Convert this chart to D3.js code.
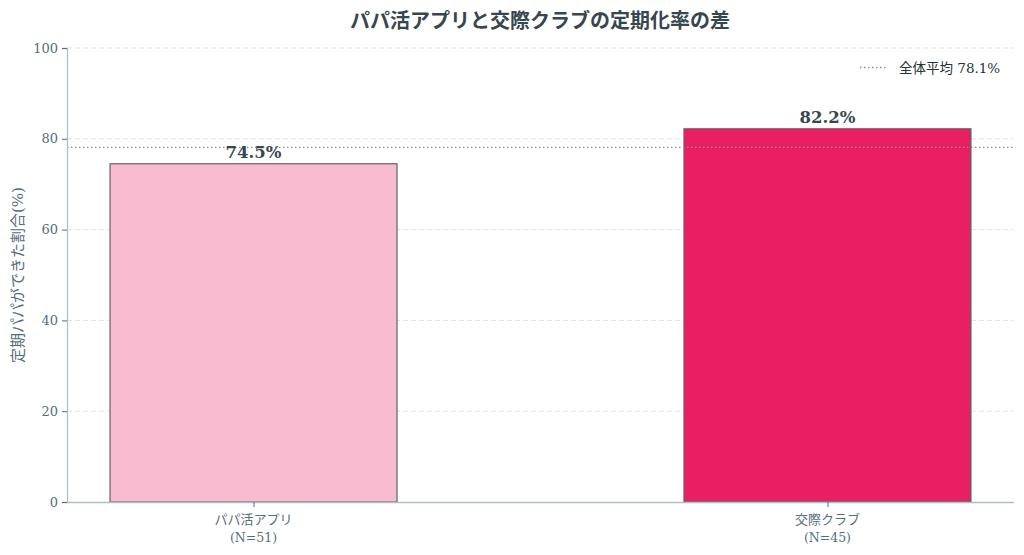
<!DOCTYPE html>
<html><head><meta charset="utf-8">
<script src="https://cdn.jsdelivr.net/npm/d3@7"></script>
<style>
html,body{margin:0;padding:0;background:#fff;}
text{font-family:"DejaVu Serif","Noto Sans CJK JP",serif;}
</style></head>
<body><svg id="c" width="1024" height="555"></svg>
<script>
const categories = ["パパ活アプリ", "交際クラブ"];
const sampleSizes = ["(N=51)", "(N=45)"];
const rates = [74.5, 82.2];
const barColors = ["#F8BBD0", "#E91E63"];
const averageRate = 78.1;
const yTicks = [0, 20, 40, 60, 80, 100];
const titleText = "パパ活アプリと交際クラブの定期化率の差";
const yLabelText = "定期パパができた割合(%)";
const legendText = "全体平均 78.1%";

const svg = d3.select("#c");
const m = {left: 67, right: 1014, top: 48, bottom: 502};
const x = d3.scaleLinear().domain([-0.325, 1.325]).range([m.left, m.right]);
const y = d3.scaleLinear().domain([0, 100]).range([m.bottom, m.top]);
const barW = x(0.5) - x(0);
const textCol = "#37474F";

// grid
svg.append("g").selectAll("line").data(yTicks.filter(d => d > 0)).join("line")
  .attr("x1", m.left).attr("x2", m.right)
  .attr("y1", d => y(d)).attr("y2", d => y(d))
  .attr("stroke", "#dfe3e6").attr("stroke-width", 1).attr("stroke-dasharray", "5,3");

// bars
svg.append("g").selectAll("rect").data(rates).join("rect")
  .attr("x", (d, i) => x(i) - barW / 2).attr("width", barW)
  .attr("y", d => y(d)).attr("height", d => y(0) - y(d))
  .attr("fill", (d, i) => barColors[i])
  .attr("stroke", "#5f6368").attr("stroke-width", 1.2);

// average line
svg.append("line").attr("x1", m.left).attr("x2", m.right)
  .attr("y1", y(averageRate)).attr("y2", y(averageRate))
  .attr("stroke", "#8a8f94").attr("stroke-width", 1.3).attr("stroke-dasharray", "1.5,2.5");

// value labels
svg.append("g").selectAll("text").data(rates).join("text")
  .attr("x", (d, i) => x(i)).attr("y", d => y(d) - 6)
  .attr("text-anchor", "middle").attr("font-size", 16.5).attr("font-weight", "bold")
  .attr("fill", textCol).text(d => d.toFixed(1) + "%");

// y axis
const ya = svg.append("g").attr("transform", `translate(${m.left},0)`)
  .call(d3.axisLeft(y).tickValues(yTicks).tickSize(5).tickPadding(4));
ya.select(".domain").attr("stroke", "#B0BEC5").attr("stroke-width", 1.3);
ya.selectAll(".tick line").attr("stroke", "#546E7A");
ya.selectAll(".tick text").attr("font-size", 13).attr("fill", "#546E7A")
  .style("font-family", "'DejaVu Serif',serif");

// x axis
const xa = svg.append("g").attr("transform", `translate(0,${m.bottom})`)
  .call(d3.axisBottom(x).tickValues([0, 1]).tickSize(5).tickFormat(""));
xa.select(".domain").attr("stroke", "#B0BEC5").attr("stroke-width", 1.3)
  .attr("d", `M${m.left},0.5H${m.right}`);
xa.selectAll(".tick line").attr("stroke", "#546E7A");
const xl = svg.append("g").selectAll("text").data(categories).join("text")
  .attr("x", (d, i) => x(i)).attr("y", m.bottom + 22)
  .attr("text-anchor", "middle").attr("font-size", 13).attr("fill", "#546E7A");
xl.append("tspan").attr("x", (d, i) => x(i)).text(d => d);
xl.append("tspan").attr("x", (d, i) => x(i)).attr("dy", 18).attr("font-size", 12.5).text((d, i) => sampleSizes[i]);

// y label
svg.append("text").attr("transform", `translate(23,${(m.top + m.bottom) / 2}) rotate(-90)`)
  .attr("text-anchor", "middle").attr("font-size", 15).attr("fill", "#546E7A").text(yLabelText);

// title
svg.append("text").attr("x", 540).attr("y", 28).attr("text-anchor", "middle")
  .attr("font-size", 20).attr("font-weight", "bold").attr("fill", textCol).text(titleText);

// legend
svg.append("line").attr("x1", 860).attr("x2", 888).attr("y1", 67.5).attr("y2", 67.5)
  .attr("stroke", "#8a8f94").attr("stroke-width", 1.3).attr("stroke-dasharray", "1.5,2.5");
svg.append("text").attr("x", 899).attr("y", 72.5).attr("font-size", 13.5)
  .attr("fill", "#263238").text(legendText);
</script></body></html>
